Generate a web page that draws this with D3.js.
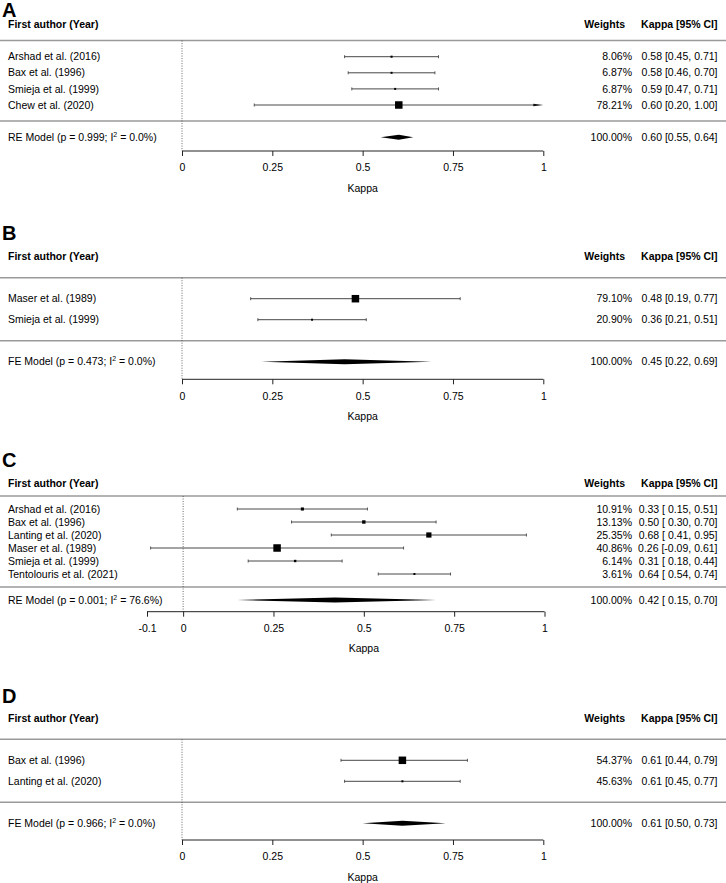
<html>
<head>
<meta charset="utf-8">
<script src="https://d3js.org/d3.v7.min.js"></script>
<style>
  body { margin: 0; background: #fff; }
  text { font-family: "Liberation Sans", Arial, sans-serif; font-size: 10.5px; fill: #000; }
</style>
</head>
<body>
<svg id="forest" width="726" height="883"></svg>
<script>
// panel letters and model summary rows
var panelLabels = ["A", "B", "C", "D"];
var modelTypes = ["RE", "FE", "RE", "FE"];
var modelP = [0.999, 0.473, 0.001, 0.966];
var modelI2 = [0.0, 0.0, 76.6, 0.0];
var modelKappa = [0.60, 0.45, 0.42, 0.61];
var modelLower = [0.55, 0.22, 0.15, 0.50];
var modelUpper = [0.64, 0.69, 0.70, 0.73];

// A
var studiesA = ["Arshad et al. (2016)", "Bax et al. (1996)", "Smieja et al. (1999)", "Chew et al. (2020)"];
var weightsA = [8.06, 6.87, 6.87, 78.21];
var kappaA = [0.58, 0.58, 0.59, 0.60];
var lowerA = [0.45, 0.46, 0.47, 0.20];
var upperA = [0.71, 0.70, 0.71, 1.00];

// B
var studiesB = ["Maser et al. (1989)", "Smieja et al. (1999)"];
var weightsB = [79.10, 20.90];
var kappaB = [0.48, 0.36];
var lowerB = [0.19, 0.21];
var upperB = [0.77, 0.51];

// C
var studiesC = ["Arshad et al. (2016)", "Bax et al. (1996)", "Lanting et al. (2020)", "Maser et al. (1989)", "Smieja et al. (1999)", "Tentolouris et al. (2021)"];
var weightsC = [10.91, 13.13, 25.35, 40.86, 6.14, 3.61];
var kappaC = [0.33, 0.50, 0.68, 0.26, 0.31, 0.64];
var lowerC = [0.15, 0.30, 0.41, -0.09, 0.18, 0.54];
var upperC = [0.51, 0.70, 0.95, 0.61, 0.44, 0.74];

// D
var studiesD = ["Bax et al. (1996)", "Lanting et al. (2020)"];
var weightsD = [54.37, 45.63];
var kappaD = [0.61, 0.61];
var lowerD = [0.44, 0.45];
var upperD = [0.79, 0.77];

// axis ticks
var ticksABD = [0, 0.25, 0.5, 0.75, 1];
var ticksC = [-0.1, 0, 0.25, 0.5, 0.75, 1];

// page layout of each panel (pixels)
var layout = [
  { letterY: 17, top: 24.5, unit: 16.1, axisY: 151, domain: [0, 1], range: [182, 543.3], ticks: ticksABD },
  { letterY: 240, top: 256.7, unit: 21, axisY: 379.3, domain: [0, 1], range: [182, 543.3], ticks: ticksABD },
  { letterY: 467, top: 483, unit: 13, axisY: 611.7, domain: [-0.1, 1], range: [147, 544.5], ticks: ticksC },
  { letterY: 703, top: 718.3, unit: 21, axisY: 840, domain: [0, 1], range: [182, 543.3], ticks: ticksABD }
];

var panels = [
  { studies: studiesA, w: weightsA, k: kappaA, lo: lowerA, hi: upperA },
  { studies: studiesB, w: weightsB, k: kappaB, lo: lowerB, hi: upperB },
  { studies: studiesC, w: weightsC, k: kappaC, lo: lowerC, hi: upperC },
  { studies: studiesD, w: weightsD, k: kappaD, lo: lowerD, hi: upperD }
];

var svg = d3.select("#forest");
// R-style numbers: plain hyphen for minus
function num(spec) {
  var f = d3.format(spec);
  return function(v) { return f(v).replace("\u2212", "-"); };
}
var f2 = num(".2f");
var f3 = num(".3f");
var f1 = num(".1f");
var weightX = 632, kappaX = 717.5, labelX = 8;

panels.forEach(function(p, i) {
  var L = layout[i];
  var n = p.studies.length;
  var x = d3.scaleLinear().domain(L.domain).range(L.range);
  // row index -> y
  var y = d3.scaleLinear().domain([0, 1]).range([L.top, L.top + L.unit]);
  var size = d3.scaleLinear().domain(d3.extent(p.w)).range([2, 7.5]);
  var padNeg = d3.min(p.lo) < 0;
  var ciText = function(k, lo, hi) {
    return f2(k) + " [" + (padNeg && lo >= 0 ? " " : "") + f2(lo) + ", " + f2(hi) + "]";
  };
  var g = svg.append("g");

  // panel letter
  g.append("text").attr("x", 2).attr("y", L.letterY)
    .style("font-size", "20px").style("font-weight", "bold").text(panelLabels[i]);

  // header
  g.append("text").attr("x", labelX).attr("y", y(0)).attr("dy", "0.35em")
    .style("font-weight", "bold").text("First author (Year)");
  g.append("text").attr("x", 625).attr("y", y(0)).attr("dy", "0.35em")
    .attr("text-anchor", "end").style("font-weight", "bold").text("Weights");
  g.append("text").attr("x", kappaX).attr("y", y(0)).attr("dy", "0.35em")
    .attr("text-anchor", "end").style("font-weight", "bold").text("Kappa [95% CI]");

  // grey rules
  [1, n + 2].forEach(function(r) {
    g.append("line").attr("x1", 0).attr("x2", 726).attr("y1", y(r)).attr("y2", y(r))
      .attr("stroke", "#9a9a9a").attr("stroke-width", 1.5);
  });

  // reference line at 0
  g.append("line").attr("x1", x(0)).attr("x2", x(0)).attr("y1", y(1)).attr("y2", L.axisY)
    .attr("stroke", "#444").attr("stroke-width", 0.8).attr("stroke-dasharray", "1,1.5");

  var rows = p.studies.map(function(s, j) {
    return { name: s, w: p.w[j], k: p.k[j], lo: p.lo[j], hi: p.hi[j], y: y(2 + j) };
  });

  var row = g.selectAll(".row").data(rows).enter().append("g");
  row.append("text").attr("x", labelX).attr("y", function(d) { return d.y; }).attr("dy", "0.35em")
    .text(function(d) { return d.name; });
  row.append("text").attr("x", weightX).attr("y", function(d) { return d.y; }).attr("dy", "0.35em")
    .attr("text-anchor", "end").text(function(d) { return f2(d.w) + "%"; });
  row.append("text").attr("x", kappaX).attr("y", function(d) { return d.y; }).attr("dy", "0.35em")
    .attr("text-anchor", "end")
    .text(function(d) { return ciText(d.k, d.lo, d.hi); });

  var xMax = L.domain[1];
  // CI lines
  row.append("line")
    .attr("x1", function(d) { return x(d.lo); })
    .attr("x2", function(d) { return d.hi >= xMax ? x(xMax) - 9 : x(d.hi); })
    .attr("y1", function(d) { return d.y; }).attr("y2", function(d) { return d.y; })
    .attr("stroke", "#333").attr("stroke-width", 0.9);
  // caps
  row.append("line")
    .attr("x1", function(d) { return x(d.lo); }).attr("x2", function(d) { return x(d.lo); })
    .attr("y1", function(d) { return d.y - 1.5; }).attr("y2", function(d) { return d.y + 1.5; })
    .attr("stroke", "#333").attr("stroke-width", 0.8);
  row.filter(function(d) { return d.hi < xMax; }).append("line")
    .attr("x1", function(d) { return x(d.hi); }).attr("x2", function(d) { return x(d.hi); })
    .attr("y1", function(d) { return d.y - 1.5; }).attr("y2", function(d) { return d.y + 1.5; })
    .attr("stroke", "#333").attr("stroke-width", 0.8);
  // arrow when CI reaches axis limit
  row.filter(function(d) { return d.hi >= xMax; }).append("path")
    .attr("d", function(d) {
      var xe = x(xMax);
      return "M" + (xe - 10) + "," + (d.y - 1.3) + "L" + xe + "," + d.y + "L" + (xe - 10) + "," + (d.y + 1.3) + "Z";
    })
    .attr("fill", "#111");
  // squares
  row.append("rect")
    .attr("x", function(d) { return x(d.k) - size(d.w) / 2; })
    .attr("y", function(d) { return d.y - size(d.w) / 2; })
    .attr("width", function(d) { return size(d.w); })
    .attr("height", function(d) { return size(d.w); })
    .attr("fill", "#000");

  // model row
  var my = y(n + 3);
  var mt = g.append("text").attr("x", labelX).attr("y", my).attr("dy", "0.35em");
  mt.append("tspan").text(modelTypes[i] + " Model (p = " + f3(modelP[i]) + "; I");
  mt.append("tspan").attr("dy", "-4").style("font-size", "7px").text("2");
  mt.append("tspan").attr("dy", "4").text(" = " + f1(modelI2[i]) + "%)");
  g.append("text").attr("x", weightX).attr("y", my).attr("dy", "0.35em")
    .attr("text-anchor", "end").text("100.00%");
  g.append("text").attr("x", kappaX).attr("y", my).attr("dy", "0.35em")
    .attr("text-anchor", "end")
    .text(ciText(modelKappa[i], modelLower[i], modelUpper[i]));
  g.append("path")
    .attr("d", "M" + x(modelLower[i]) + "," + my + "L" + x(modelKappa[i]) + "," + (my - 2.5) +
      "L" + x(modelUpper[i]) + "," + my + "L" + x(modelKappa[i]) + "," + (my + 2.5) + "Z")
    .attr("fill", "#000");

  // x axis
  var ax = g.append("g").attr("transform", "translate(0," + L.axisY + ")")
    .call(d3.axisBottom(x).tickValues(L.ticks).tickSize(5).tickSizeOuter(0).tickPadding(8)
      .tickFormat(function(d) { return String(d); }));
  ax.select(".domain").attr("d", "M" + x(L.ticks[0]) + ",0H" + x(L.ticks[L.ticks.length - 1]))
    .attr("stroke", "#222");
  ax.selectAll(".tick line").attr("stroke", "#222");
  ax.selectAll(".tick text").style("font-size", "10.5px")
    .style("font-family", "'Liberation Sans', Arial, sans-serif").attr("fill", "#000");

  g.append("text").attr("x", x(0.5)).attr("y", L.axisY + 37).attr("dy", "0.35em")
    .attr("text-anchor", "middle").text("Kappa");
});
</script>
</body>
</html>
